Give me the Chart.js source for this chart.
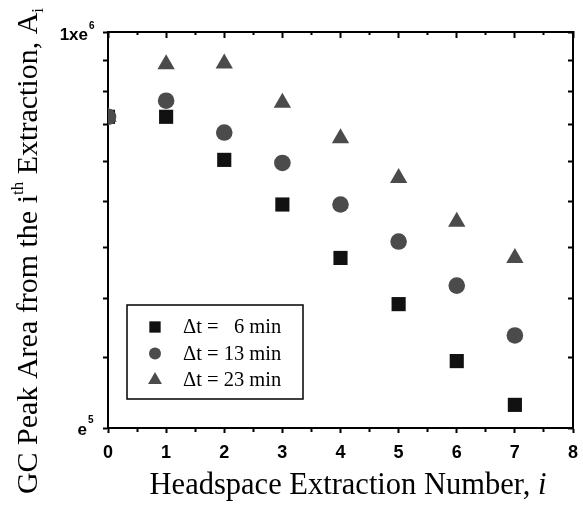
<!DOCTYPE html>
<html>
<head>
<meta charset="utf-8">
<script src="https://cdn.jsdelivr.net/npm/chart.js@4/dist/chart.umd.min.js"></script>
<style>
html,body{margin:0;padding:0;background:#fff;}
canvas{display:block;}
</style>
</head>
<body>
<canvas id="c" width="583" height="507"></canvas>
<script>
// ---- data ----
const extractionNumbers = [0, 1, 2, 3, 4, 5, 6, 7];
const areaDt6  = [1123000, 1123000, 1004000, 894000, 778000, 690000, 595000, 531000];
const areaDt13 = [1123000, 1171000, 1078000, 996000, 894000, 812000, 724000, 636000];
const areaDt23 = [1123000, 1287000, 1290000, 1165000, 1062000, 958000, 855000, 778000];
const seriesLabels = ['\u0394t =   6 min', '\u0394t = 13 min', '\u0394t = 23 min'];
const seriesMinutes = ['6', '13', '23'];
const xTickValues = [0, 0.5, 1, 1.5, 2, 2.5, 3, 3.5, 4, 4.5, 5, 5.5, 6, 6.5, 7, 7.5, 8];
const xTickLabels = ['0', '1', '2', '3', '4', '5', '6', '7', '8'];
const yTickValues = [500000, 600000, 700000, 800000, 900000, 1000000, 1100000, 1200000, 1300000, 1400000];
const yTopLabel = ['1xe', '6'];
const yBottomLabel = ['e', '5'];
const xTitle = ['Headspace Extraction Number, ', 'i'];
const yTitle = ['GC Peak Area from the i', 'th', ' Extraction, A', 'i'];

const X_MIN = 0, X_MAX = 8;
const Y_MIN = 500000, Y_MAX = 1400000;

function pts(arr) { return extractionNumbers.map((x, i) => ({ x: x, y: arr[i] })); }

const SERIF = '"Liberation Serif", "Times New Roman", serif';
const SANS = '"Liberation Sans", Arial, sans-serif';

const isMajor = v => Math.abs(v - Math.round(v)) < 1e-9;

const annotPlugin = {
  id: 'annot',
  afterDraw(chart) {
    const ctx = chart.ctx;
    const ys = chart.scales.y;
    ctx.save();
    ctx.fillStyle = '#000';
    // y tick labels (ends only)
    const yTop = ys.getPixelForValue(Y_MAX);
    const yBot = ys.getPixelForValue(Y_MIN);
    ctx.font = 'bold 17px ' + SANS;
    ctx.textAlign = 'right';
    ctx.textBaseline = 'alphabetic';
    ctx.fillText(yTopLabel[0], 88, yTop + 8);
    ctx.fillText(yBottomLabel[0], 87, yBot + 7);
    ctx.font = 'bold 10px ' + SANS;
    ctx.textAlign = 'left';
    ctx.fillText(yTopLabel[1], 89, yTop - 3);
    ctx.fillText(yBottomLabel[1], 88, yBot - 5);

    // x title
    const f1 = '30.5px ' + SERIF, f2 = 'italic 30.5px ' + SERIF;
    ctx.font = f1; const w1 = ctx.measureText(xTitle[0]).width;
    ctx.font = f2; const w2 = ctx.measureText(xTitle[1]).width;
    const cx = 348;
    let x0 = cx - (w1 + w2) / 2;
    ctx.textAlign = 'left';
    ctx.font = f1; ctx.fillText(xTitle[0], x0, 494);
    ctx.font = f2; ctx.fillText(xTitle[1], x0 + w1, 494);

    // y title (rotated)
    const parts = [
      { t: yTitle[0], f: '30px ' + SERIF, dy: 0 },
      { t: yTitle[1], f: '17px ' + SERIF, dy: -14 },
      { t: yTitle[2], f: '30px ' + SERIF, dy: 0 },
      { t: yTitle[3], f: '17px ' + SERIF, dy: 6 }
    ];
    let tw = 0;
    parts.forEach(p => { ctx.font = p.f; p.w = ctx.measureText(p.t).width; tw += p.w; });
    ctx.save();
    ctx.translate(37, 251 + tw / 2);
    ctx.rotate(-Math.PI / 2);
    let px = 0;
    parts.forEach(p => { ctx.font = p.f; ctx.fillText(p.t, px, p.dy); px += p.w; });
    ctx.restore();

    // legend
    const bx = 127, by = 305, bw = 176, bh = 94;
    ctx.lineWidth = 1.5;
    ctx.strokeStyle = '#000';
    ctx.strokeRect(bx, by, bw, bh);
    const rows = [327, 353.5, 380];
    const legendRadius = [8, 6, 8];
    ctx.font = '20.5px ' + SERIF;
    const ref = ctx.measureText('\u0394t = 13 min').width;
    const textLeft = 183;
    const rightEdge = textLeft + ref;
    chart.data.datasets.forEach((ds, i) => {
      ctx.fillStyle = ds.backgroundColor;
      Chart.helpers.drawPoint(ctx, { pointStyle: ds.pointStyle, radius: legendRadius[i], borderWidth: 0, rotation: 0 }, 155, rows[i]);
      ctx.fillStyle = '#000';
      ctx.textBaseline = 'middle';
      ctx.textAlign = 'left';
      ctx.fillText('\u0394t =', textLeft, rows[i] + 1);
      ctx.textAlign = 'right';
      ctx.fillText(seriesMinutes[i] + ' min', rightEdge, rows[i] + 1);
    });
    ctx.restore();
  }
};

const tickColor = '#000';

new Chart(document.getElementById('c'), {
  type: 'scatter',
  data: {
    datasets: [
      { label: seriesLabels[0], data: pts(areaDt6), pointStyle: 'rect', pointRadius: 10, backgroundColor: '#111111', borderColor: '#111111', borderWidth: 0, order: 2, clip: 0 },
      { label: seriesLabels[1], data: pts(areaDt13), pointStyle: 'circle', pointRadius: 8.3, backgroundColor: '#4b4b4b', borderColor: '#4b4b4b', borderWidth: 0, order: 1, clip: 0 },
      { label: seriesLabels[2], data: pts(areaDt23), pointStyle: 'triangle', pointRadius: 10, backgroundColor: '#4b4b4b', borderColor: '#4b4b4b', borderWidth: 0, order: 0, clip: 0 }
    ]
  },
  options: {
    responsive: false,
    animation: false,
    devicePixelRatio: 1,
    events: [],
    layout: { padding: { left: 0, top: 32, right: 0, bottom: 0 } },
    plugins: { legend: { display: false }, tooltip: { enabled: false }, title: { display: false } },
    scales: {
      x: {
        type: 'linear', position: 'bottom', min: X_MIN, max: X_MAX,
        afterBuildTicks: s => { s.ticks = xTickValues.map(v => ({ value: v })); },
        afterFit: s => { s.height = 79; s.paddingLeft = 0; s.paddingRight = 6; },
        ticks: {
          autoSkip: false, maxRotation: 0, minRotation: 0, padding: 9, color: '#000',
          font: { family: SANS, weight: 'bold', size: 18 },
          callback: v => isMajor(v) ? xTickLabels[Math.round(v)] : ''
        },
        grid: {
          drawOnChartArea: false, drawTicks: true, tickLength: 5, tickWidth: 2, tickColor: tickColor,
          tickBorderDash: c => (c.tick && !isMajor(c.tick.value)) ? [3, 40] : []
        },
        border: { display: true, color: '#000', width: 2 }
      },
      x2: {
        type: 'linear', position: 'top', min: X_MIN, max: X_MAX,
        afterBuildTicks: s => { s.ticks = xTickValues.map(v => ({ value: v })); },
        afterFit: s => { s.height = 0; s.paddingLeft = 0; s.paddingRight = 0; },
        ticks: { display: false },
        grid: {
          drawOnChartArea: false, drawTicks: true, tickLength: -6, tickWidth: 2, tickColor: tickColor,
          tickBorderDash: c => (c.tick && !isMajor(c.tick.value)) ? [0, 3, 5, 40] : []
        },
        border: { display: true, color: '#000', width: 2 }
      },
      y: {
        type: 'logarithmic', position: 'left', min: Y_MIN, max: Y_MAX,
        afterBuildTicks: s => { s.ticks = yTickValues.map(v => ({ value: v })); },
        afterFit: s => { s.width = 108; s.paddingTop = 0; s.paddingBottom = 0; },
        ticks: { display: false },
        grid: { drawOnChartArea: false, drawTicks: true, tickLength: 5, tickWidth: 2, tickColor: tickColor },
        border: { display: true, color: '#000', width: 2 }
      },
      y2: {
        type: 'logarithmic', position: 'right', min: Y_MIN, max: Y_MAX,
        afterBuildTicks: s => { s.ticks = yTickValues.map(v => ({ value: v })); },
        afterFit: s => { s.width = 0; s.paddingTop = 0; s.paddingBottom = 0; },
        ticks: { display: false },
        grid: { drawOnChartArea: false, drawTicks: true, tickLength: -5, tickWidth: 2, tickColor: tickColor },
        border: { display: true, color: '#000', width: 2 }
      }
    }
  },
  plugins: [annotPlugin]
});
</script>
</body>
</html>
